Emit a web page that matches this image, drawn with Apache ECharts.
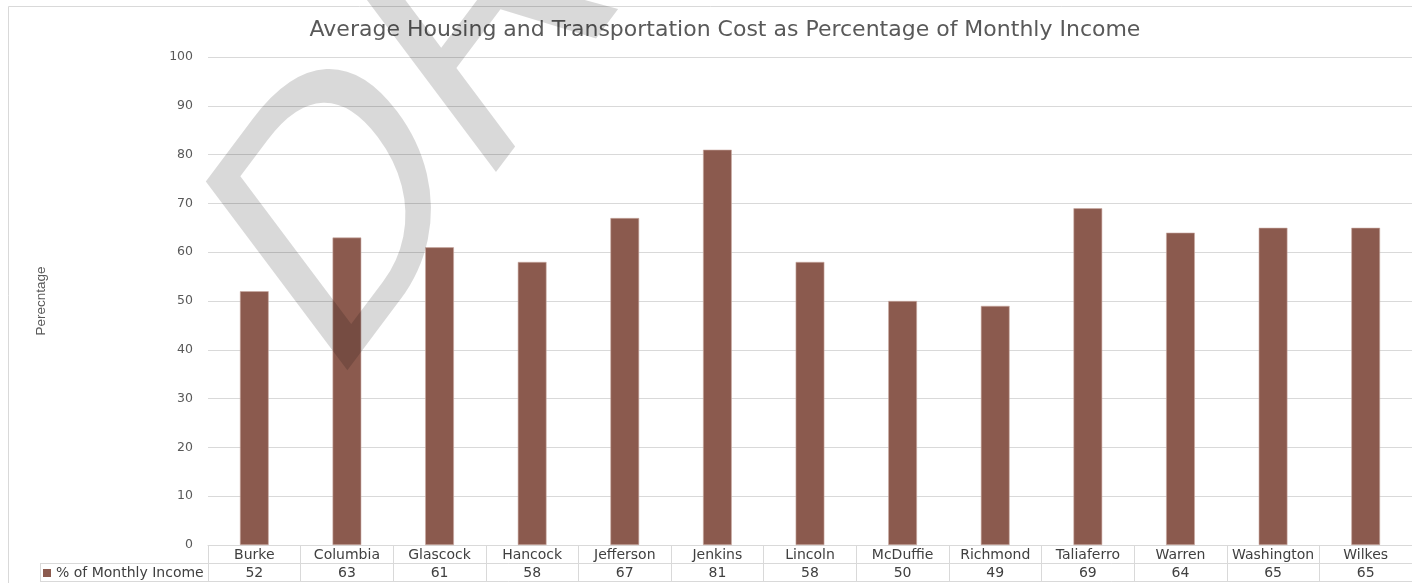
<!DOCTYPE html>
<html>
<head>
<meta charset="utf-8">
<script src="https://cdn.jsdelivr.net/npm/echarts@6/dist/echarts.min.js"></script>
<style>
html,body{margin:0;padding:0;background:#fff;}
#chart{width:1412px;height:583px;}
</style>
</head>
<body>
<div id="chart"></div>
<script>
var categories = ['Burke','Columbia','Glascock','Hancock','Jefferson','Jenkins','Lincoln','McDuffie','Richmond','Taliaferro','Warren','Washington','Wilkes'];
var values = [52,63,61,58,67,81,58,50,49,69,64,65,65];
var seriesName = '% of Monthly Income';
var titleText = 'Average Housing and Transportation Cost as Percentage of Monthly Income';
var yAxisName = 'Perecntage';
var watermark = 'DRAFT';

var WIDE = '"DejaVu Sans", "Liberation Sans", sans-serif';
var ARIAL = '"Liberation Sans", Arial, sans-serif';
var chart = echarts.init(document.getElementById('chart'), null, {renderer: 'canvas'});
var gridColor = '#d9d9d9';

chart.setOption({
  animation: false,
  backgroundColor: '#fff',
  textStyle: {fontFamily: WIDE},
  title: {
    text: titleText,
    left: 720,
    textAlign: 'center',
    top: 14,
    textStyle: {fontFamily: WIDE, fontSize: 22, fontWeight: 'normal', color: '#595959'}
  },
  legend: {
    left: 43, top: 566, padding: 0,
    icon: 'rect', itemWidth: 8, itemHeight: 8, itemGap: 4,
    itemStyle: {borderWidth: 0},
    textStyle: {fontFamily: WIDE, fontSize: 14, color: '#404040'},
    data: [seriesName]
  },
  grid: {left: 208, right: 0, top: 57, bottom: 38, containLabel: false},
  xAxis: [
    {
      type: 'category', data: categories, position: 'bottom',
      axisLine: {show: true, lineStyle: {color: gridColor, width: 1}},
      axisTick: {show: true, alignWithLabel: false, interval: 0, length: 36, lineStyle: {color: gridColor}},
      axisLabel: {interval: 0, margin: 3, fontFamily: WIDE, fontSize: 14, color: '#404040'}
    },
    {
      type: 'category', data: values.map(String), position: 'bottom', offset: 18,
      axisLine: {show: true, lineStyle: {color: gridColor, width: 1}},
      axisTick: {show: false},
      axisLabel: {interval: 0, margin: 3, fontFamily: WIDE, fontSize: 14, color: '#404040'}
    },
    {
      type: 'category', data: categories, position: 'bottom', offset: 36,
      axisLine: {show: true, lineStyle: {color: gridColor, width: 1}},
      axisTick: {show: false},
      axisLabel: {show: false}
    }
  ],
  yAxis: {
    type: 'value', min: 0, max: 100, interval: 10,
    name: yAxisName, nameLocation: 'middle', nameRotate: 90, nameGap: 160,
    nameTextStyle: {fontFamily: ARIAL, fontSize: 13.5, color: '#595959'},
    axisLine: {show: false}, axisTick: {show: false},
    axisLabel: {margin: 15, fontFamily: WIDE, fontSize: 12.5, color: '#595959'},
    splitLine: {show: true, lineStyle: {color: gridColor, width: 1}}
  },
  series: [{
    name: seriesName, type: 'bar', xAxisIndex: 0,
    data: values, barWidth: '31%',
    itemStyle: {color: '#8b5a4e', borderColor: '#c9a9a1', borderWidth: 0.6}
  }],
  graphic: [
    {type: 'rect', silent: true, z: -1, shape: {x: 8.5, y: 6.5, width: 1420, height: 600}, style: {fill: null, stroke: gridColor, lineWidth: 1}},
    {type: 'line', silent: true, shape: {x1: 40, y1: 563.5, x2: 208, y2: 563.5}, style: {stroke: gridColor, lineWidth: 1}},
    {type: 'line', silent: true, shape: {x1: 40, y1: 581.5, x2: 208, y2: 581.5}, style: {stroke: gridColor, lineWidth: 1}},
    {type: 'line', silent: true, shape: {x1: 40.5, y1: 563, x2: 40.5, y2: 582}, style: {stroke: gridColor, lineWidth: 1}},
    {
      type: 'group', x: 0, y: 0, scaleX: 0.75, scaleY: 1, z: 100, silent: true,
      children: [{
        type: 'text', x: 365, y: 317, rotation: Math.PI / 4, z: 100, silent: true,
        style: {text: watermark, font: 'normal 388px "Liberation Sans", Arial, sans-serif', fill: 'rgba(0,0,0,0.15)', textAlign: 'left', verticalAlign: 'middle'}
      }]
    }
  ]
});
</script>
</body>
</html>
